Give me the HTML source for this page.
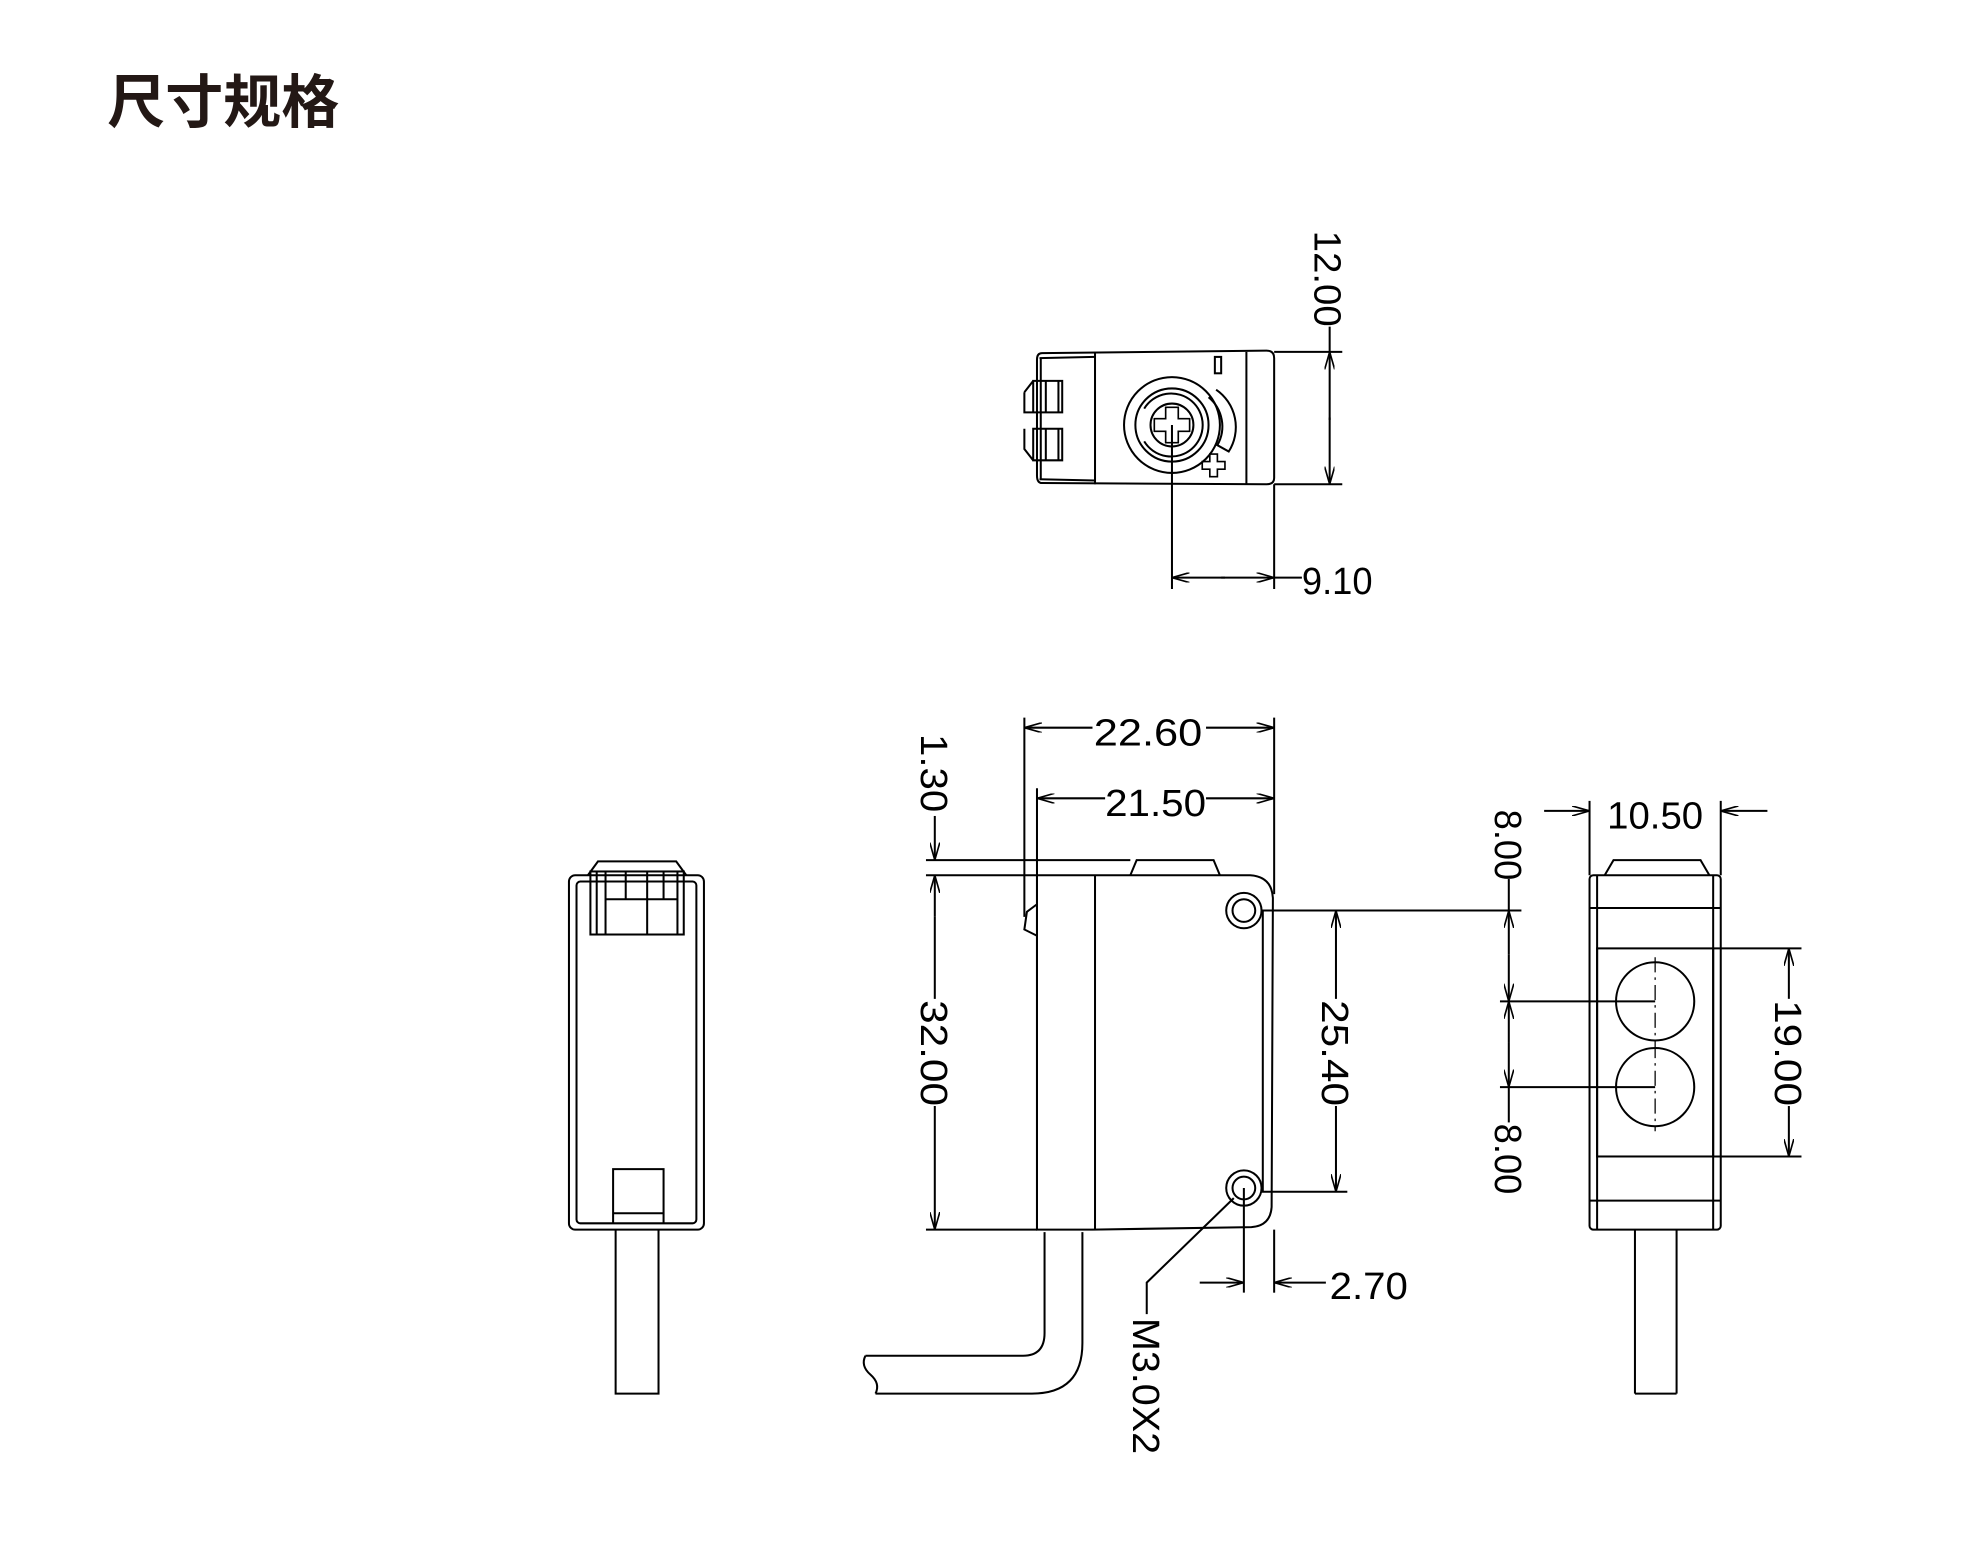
<!DOCTYPE html>
<html><head><meta charset="utf-8"><style>
html,body{margin:0;padding:0;background:#fff;}
svg{display:block}
.t{font-family:"Liberation Sans",sans-serif;font-size:30px;fill:#000;}
</style></head><body>
<svg width="1968" height="1555" viewBox="0 0 1560 1233" preserveAspectRatio="none" xmlns="http://www.w3.org/2000/svg">
<defs>
<marker id="a" markerWidth="14" markerHeight="8" refX="14" refY="4" orient="auto" markerUnits="userSpaceOnUse">
<path d="M0,0 L14,4 L0,8" fill="none" stroke="#000" stroke-width="1.3"/></marker>
</defs>
<text x="85" y="97" font-family="'Liberation Sans','Noto Sans CJK SC',sans-serif" font-size="46" font-weight="bold" fill="#231815">尺寸规格</text>
<g transform="translate(-4,-3)">
<g fill="none" stroke="#000" stroke-width="1.6">
<!-- TOP VIEW -->
<path d="M830,283 L1008,281 Q1014,281 1014,287 L1014,382 Q1014,387 1008,387 L830,386 Q826,386 826,380 L826,288 Q826,283 830,283Z"/>
<line x1="828" y1="287" x2="872" y2="286"/><line x1="828" y1="383" x2="872" y2="384"/>
<line x1="829" y1="287" x2="829" y2="383"/>
<line x1="872" y1="283" x2="872" y2="387"/><line x1="992" y1="282" x2="992" y2="387"/>
<path d="M823,305 L846,305 L846,330 L823,330 Z M816,314 L823,305 M816,314 L816,330 L823,330 M833,305 L833,330 M843,305 L843,330"/>
<path d="M823,343 L846,343 L846,368 L823,368 Z M816,343 L816,359 L823,368 M833,343 L833,368 M843,343 L843,368"/>
<circle cx="933" cy="340" r="38"/>
<circle cx="933" cy="340" r="29"/>
<path d="M911,327 A25,25 0 1,1 911,353"/>
<circle cx="933" cy="340" r="17"/>
<path d="M928,326 h10 v9 h9 v10 h-9 v9 h-10 v-9 h-9 v-10 h9 z" stroke-width="1.3"/>
<path d="M968,312 A36,36 0 0,1 978,361 L969,356 A30,30 0 0,0 962,318"/>
<rect x="967" y="286" width="5" height="13"/>
<path d="M963,363 h6 v6 h6 v6 h-6 v6 h-6 v-6 h-6 v-6 h6 z" stroke-width="1.3"/>
<line x1="1014" y1="282" x2="1068" y2="282"/><line x1="1014" y1="387" x2="1068" y2="387"/>
<line x1="1058" y1="336" x2="1058" y2="282" marker-end="url(#a)"/>
<line x1="1058" y1="334" x2="1058" y2="387" marker-end="url(#a)"/>
<line x1="1058" y1="262" x2="1058" y2="282"/>
<line x1="933" y1="340" x2="933" y2="470"/><line x1="1014" y1="387" x2="1014" y2="470"/>
<line x1="975" y1="461" x2="933" y2="461" marker-end="url(#a)"/>
<line x1="972" y1="461" x2="1014" y2="461" marker-end="url(#a)"/>
<line x1="1014" y1="461" x2="1036" y2="461"/>

<!-- LEFT VIEW -->
<rect x="455" y="697" width="107" height="281" rx="5"/>
<rect x="461" y="702" width="95" height="271" rx="3"/>
<path d="M470,697 L478,686 L540,686 L548,697"/>
<rect x="472" y="694" width="74" height="50"/>
<path d="M484,694 L484,744 M517,694 L517,744 M500,694 L500,716 M530,694 L530,716 M477,694 L477,744 M541,694 L541,744 M484,716 L541,716"/>
<path d="M490,973 L490,930 L530,930 L530,973 M490,965 L530,965"/>
<path d="M492,978 L492,1108 L526,1108 L526,978"/>

<!-- FRONT VIEW -->
<path d="M826,697 L995,697 Q1012,698 1013,715 L1012,960 Q1011,975 996,976 L870,978 L826,978 Z"/>
<line x1="826" y1="697" x2="826" y2="978"/>
<line x1="872" y1="697" x2="872" y2="978"/>
<line x1="1005" y1="725" x2="1005" y2="948"/>
<path d="M900,697 L905,685 L966,685 L971,697"/>
<path d="M826,720 L818,726 L816,740 L826,745"/>
<circle cx="990" cy="725" r="14"/><circle cx="990" cy="725" r="9"/>
<circle cx="990" cy="945" r="14"/><circle cx="990" cy="945" r="9"/>
<path d="M832,980 L832,1060 Q832,1078 815,1078 L690,1078"/>
<path d="M862,980 L862,1068 Q862,1108 822,1108 L698,1108"/>
<path d="M690,1078 Q686,1086 694,1093 Q702,1100 698,1108"/>
<line x1="816" y1="572" x2="816" y2="730"/><line x1="1014" y1="572" x2="1014" y2="712"/>
<line x1="826" y1="628" x2="826" y2="697"/>
<line x1="870" y1="580" x2="816" y2="580" marker-end="url(#a)"/>
<line x1="960" y1="580" x2="1014" y2="580" marker-end="url(#a)"/>
<line x1="880" y1="636" x2="826" y2="636" marker-end="url(#a)"/>
<line x1="960" y1="636" x2="1014" y2="636" marker-end="url(#a)"/>
<line x1="738" y1="685" x2="900" y2="685"/><line x1="738" y1="697" x2="826" y2="697"/>
<line x1="738" y1="978" x2="826" y2="978"/>
<line x1="745" y1="650" x2="745" y2="685" marker-end="url(#a)"/>
<line x1="745" y1="730" x2="745" y2="697" marker-end="url(#a)"/>
<line x1="745" y1="730" x2="745" y2="795"/>
<line x1="745" y1="880" x2="745" y2="978" marker-end="url(#a)"/>
<line x1="1004" y1="725" x2="1210" y2="725"/><line x1="1004" y1="948" x2="1072" y2="948"/>
<line x1="1063" y1="795" x2="1063" y2="725" marker-end="url(#a)"/>
<line x1="1063" y1="880" x2="1063" y2="948" marker-end="url(#a)"/>
<line x1="990" y1="945" x2="990" y2="1028"/><line x1="1014" y1="978" x2="1014" y2="1028"/>
<line x1="955" y1="1020" x2="990" y2="1020" marker-end="url(#a)"/>
<line x1="1055" y1="1020" x2="1014" y2="1020" marker-end="url(#a)"/>
<path d="M982,953 L913,1020 L913,1045"/>

<!-- RIGHT VIEW -->
<rect x="1264" y="697" width="104" height="281" rx="3"/>
<line x1="1270" y1="697" x2="1270" y2="978"/><line x1="1362" y1="697" x2="1362" y2="978"/>
<line x1="1264" y1="723" x2="1368" y2="723"/><line x1="1264" y1="955" x2="1368" y2="955"/>
<path d="M1276,697 L1283,685 L1352,685 L1359,697"/>
<rect x="1270" y="755" width="92" height="165"/>
<circle cx="1316" cy="797" r="31"/><circle cx="1316" cy="865" r="31"/>
<path d="M1316,762 V832 M1316,830 V900" stroke-dasharray="12,4,2,4" stroke-width="1"/>
<line x1="1300" y1="978" x2="1300" y2="1108"/><line x1="1333" y1="978" x2="1333" y2="1108"/><line x1="1300" y1="1108" x2="1333" y2="1108"/>
<line x1="1193" y1="797" x2="1316" y2="797"/><line x1="1193" y1="865" x2="1316" y2="865"/>
<line x1="1200" y1="700" x2="1200" y2="725"/>
<line x1="1200" y1="760" x2="1200" y2="725" marker-end="url(#a)"/>
<line x1="1200" y1="760" x2="1200" y2="797" marker-end="url(#a)"/>
<line x1="1200" y1="830" x2="1200" y2="797" marker-end="url(#a)"/>
<line x1="1200" y1="830" x2="1200" y2="865" marker-end="url(#a)"/>
<line x1="1200" y1="865" x2="1200" y2="893"/>
<line x1="1362" y1="755" x2="1432" y2="755"/><line x1="1362" y1="920" x2="1432" y2="920"/>
<line x1="1422" y1="795" x2="1422" y2="755" marker-end="url(#a)"/>
<line x1="1422" y1="880" x2="1422" y2="920" marker-end="url(#a)"/>
<line x1="1264" y1="638" x2="1264" y2="697"/><line x1="1368" y1="638" x2="1368" y2="697"/>
<line x1="1228" y1="646" x2="1264" y2="646" marker-end="url(#a)"/>
<line x1="1405" y1="646" x2="1368" y2="646" marker-end="url(#a)"/>
</g>
<g class="t">
<text x="871" y="594" textLength="86" lengthAdjust="spacingAndGlyphs">22.60</text>
<text x="880" y="650" textLength="80" lengthAdjust="spacingAndGlyphs">21.50</text>
<text x="1036" y="474" textLength="56" lengthAdjust="spacingAndGlyphs">9.10</text>
<text x="1058" y="1033" textLength="62" lengthAdjust="spacingAndGlyphs">2.70</text>
<text x="1278" y="660" textLength="76" lengthAdjust="spacingAndGlyphs">10.50</text>
<text transform="translate(1046,186) rotate(90)" textLength="76" lengthAdjust="spacingAndGlyphs">12.00</text>
<text transform="translate(734,585) rotate(90)" textLength="62" lengthAdjust="spacingAndGlyphs">1.30</text>
<text transform="translate(734,796) rotate(90)" textLength="84" lengthAdjust="spacingAndGlyphs">32.00</text>
<text transform="translate(1052,796) rotate(90)" textLength="84" lengthAdjust="spacingAndGlyphs">25.40</text>
<text transform="translate(1189,645) rotate(90)" textLength="56" lengthAdjust="spacingAndGlyphs">8.00</text>
<text transform="translate(1189,894) rotate(90)" textLength="56" lengthAdjust="spacingAndGlyphs">8.00</text>
<text transform="translate(1411,796) rotate(90)" textLength="84" lengthAdjust="spacingAndGlyphs">19.00</text>
<text transform="translate(902,1048) rotate(90)" textLength="108" lengthAdjust="spacingAndGlyphs">M3.0X2</text>
</g>
</g>
</svg>
</body></html>
